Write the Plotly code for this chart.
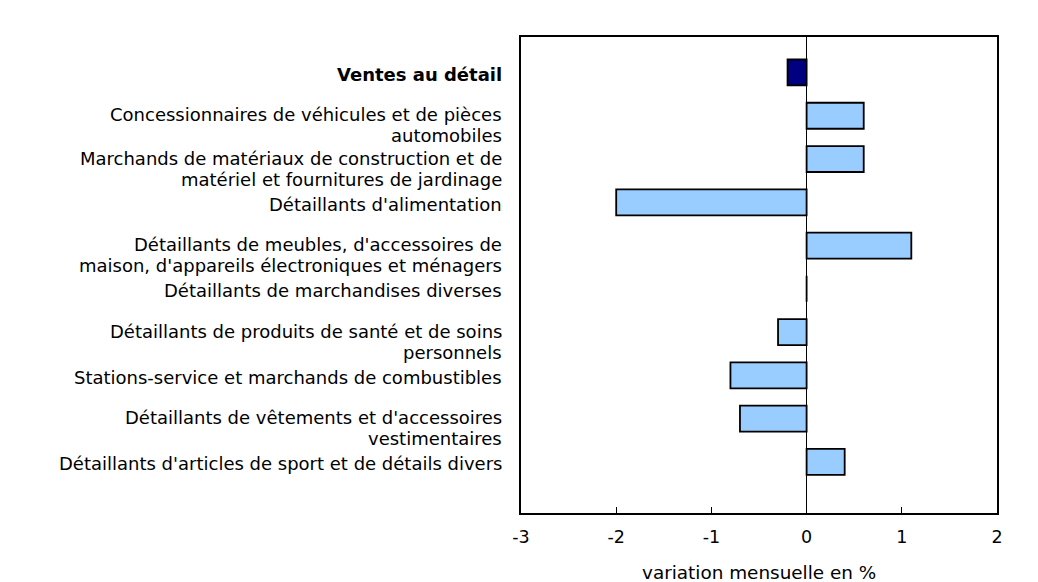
import plotly.graph_objects as go

categories = [
    "<b>Ventes au détail</b>",
    "Concessionnaires de véhicules et de pièces<br>automobiles",
    "Marchands de matériaux de construction et de<br>matériel et fournitures de jardinage",
    "Détaillants d'alimentation",
    "Détaillants de meubles, d'accessoires de<br>maison, d'appareils électroniques et ménagers",
    "Détaillants de marchandises diverses",
    "Détaillants de produits de santé et de soins<br>personnels",
    "Stations-service et marchands de combustibles",
    "Détaillants de vêtements et d'accessoires<br>vestimentaires",
    "Détaillants d'articles de sport et de détails divers",
]
values = [-0.2, 0.6, 0.6, -2.0, 1.1, 0.0, -0.3, -0.8, -0.7, 0.4]
bar_colors = ["#000080"] + ["#99CCFF"] * 9

x_ticks = [-3, -2, -1, 0, 1, 2]
x_ticktext = ["-3", "-2", "-1", "0", "1", "2"]
x_title = "variation mensuelle en %"

positions = list(range(len(categories)))

fig = go.Figure()
fig.add_trace(go.Bar(
    x=values,
    y=positions,
    orientation="h",
    width=0.6,
    marker=dict(color=bar_colors, line=dict(color="black", width=1.8)),
    showlegend=False,
))

# category labels: one annotation per line so the spacing matches the original
label_font = dict(family="DejaVu Sans, Verdana, sans-serif", size=18, color="black")
for pos, label in zip(positions, categories):
    lines = label.split("<br>")
    shifts = [-2] if len(lines) == 1 else [1, -20]
    for line, shift in zip(lines, shifts):
        fig.add_annotation(
            x=0, xref="paper", xanchor="right", xshift=-17,
            y=pos, yref="y", yanchor="middle", yshift=shift,
            text=line, showarrow=False, align="right",
            font=label_font,
        )

# x axis title
fig.add_annotation(
    x=0.5, xref="paper", xanchor="center",
    y=0, yref="paper", yanchor="middle", yshift=-59,
    text=x_title, showarrow=False,
    font=dict(family="DejaVu Sans, Verdana, sans-serif", size=18.4, color="black"),
)

fig.update_layout(
    width=1030,
    height=574,
    margin=dict(l=513, r=41, t=29, b=69),
    paper_bgcolor="white",
    plot_bgcolor="white",
    font=dict(family="DejaVu Sans, Verdana, sans-serif", size=16, color="black"),
    xaxis=dict(
        range=[-3, 2],
        tickvals=x_ticks,
        ticktext=x_ticktext,
        tickfont=dict(size=17.5),
        ticks="inside",
        ticklen=6,
        tickcolor="black",
        ticklabelstandoff=7,
        showgrid=False,
        zeroline=True,
        zerolinecolor="black",
        zerolinewidth=1,
        showline=True,
        linecolor="black",
        linewidth=1.8,
        mirror=True,
        automargin=False,
    ),
    yaxis=dict(
        range=[10.18, -0.82],
        showticklabels=False,
        ticks="",
        showgrid=False,
        zeroline=False,
        showline=True,
        linecolor="black",
        linewidth=1.8,
        mirror=True,
        automargin=False,
    ),
)

fig.write_html("out.html")
